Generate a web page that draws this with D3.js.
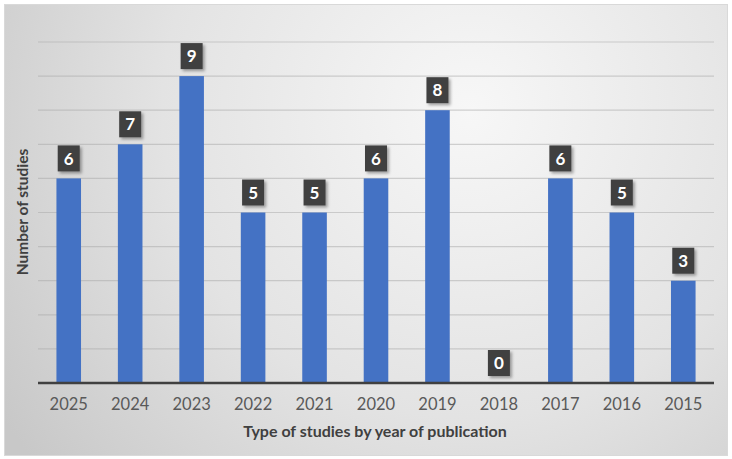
<!DOCTYPE html>
<html><head><meta charset="utf-8">
<script src="https://cdn.jsdelivr.net/npm/d3@7/dist/d3.min.js"></script>
<style>html,body{margin:0;padding:0;background:#fff;}svg{display:block;}</style>
</head><body>
<script>
const years = ["2025","2024","2023","2022","2021","2020","2019","2018","2017","2016","2015"];
const counts = [6,7,9,5,5,6,8,0,6,5,3];
const yTicks = [0,1,2,3,4,5,6,7,8,9,10];

const W = 732, H = 459;
const svg = d3.select("body").append("svg").attr("width", W).attr("height", H);
const defs = svg.append("defs");
const rg = defs.append("radialGradient").attr("id","bg")
  .attr("gradientUnits","userSpaceOnUse").attr("cx",470).attr("cy",110).attr("r",560);
rg.append("stop").attr("offset","0%").attr("stop-color","#f7f7f7");
rg.append("stop").attr("offset","55%").attr("stop-color","#e3e3e3");
rg.append("stop").attr("offset","100%").attr("stop-color","#c8c8c8");
const sh = defs.append("filter").attr("id","sh").attr("x","-30%").attr("y","-30%").attr("width","170%").attr("height","170%");
sh.append("feDropShadow").attr("dx",2).attr("dy",2).attr("stdDeviation",1.6).attr("flood-color","#000").attr("flood-opacity",0.35);

svg.append("rect").attr("x",4.5).attr("y",4.5).attr("width",723).attr("height",451)
  .attr("fill","url(#bg)").attr("stroke","#d9d9d9");

const x = d3.scaleBand().domain(years).range([38,714]).paddingInner(0.6).paddingOuter(0.3);
const y = d3.scaleLinear().domain([0,10]).range([383,42]);

const font = "Lato, 'Open Sans', sans-serif";

// gridlines
svg.append("g").selectAll("line").data(yTicks.slice(1)).join("line")
  .attr("x1",38).attr("x2",714).attr("y1",d=>y(d)).attr("y2",d=>y(d))
  .attr("stroke","#a8a8a8").attr("stroke-opacity",0.5).attr("stroke-width",1.2);

// bars
svg.append("g").selectAll("rect").data(counts).join("rect")
  .attr("x",(d,i)=>x(years[i])).attr("width",x.bandwidth())
  .attr("y",d=>y(d)).attr("height",d=>y(0)-y(d)).attr("fill","#4472C4");

// baseline
svg.append("line").attr("x1",38).attr("x2",714).attr("y1",y(0)).attr("y2",y(0))
  .attr("stroke","#404040").attr("stroke-width",2.5);

// x axis labels
const xAxis = d3.axisBottom(x).tickSize(0).tickPadding(15);
const gx = svg.append("g").attr("transform",`translate(0,${y(0)})`).call(xAxis);
gx.select(".domain").remove();
gx.selectAll("text").attr("font-family",font).attr("font-size",16.5).attr("fill","#595959");

// data labels
const lbl = svg.append("g").selectAll("g").data(counts).join("g")
  .attr("transform",(d,i)=>`translate(${x(years[i])+x.bandwidth()/2},${y(d)-20})`);
lbl.append("rect").attr("x",-11).attr("y",-13).attr("width",22).attr("height",26)
  .attr("fill","#404040").attr("filter","url(#sh)");
lbl.append("text").attr("text-anchor","middle").attr("dy","0.36em")
  .attr("font-family",font).attr("font-weight","bold").attr("font-size",17).attr("fill","#fff")
  .text(d=>d);

// axis titles
svg.append("text").attr("x",375).attr("y",437).attr("text-anchor","middle")
  .attr("font-family",font).attr("font-weight","bold").attr("font-size",16).attr("fill","#404040")
  .text("Type of studies by year of publication");
svg.append("text").attr("transform","translate(28,212) rotate(-90)").attr("text-anchor","middle")
  .attr("font-family",font).attr("font-weight","bold").attr("font-size",15.5).attr("fill","#404040")
  .text("Number of studies");
</script>
</body></html>
